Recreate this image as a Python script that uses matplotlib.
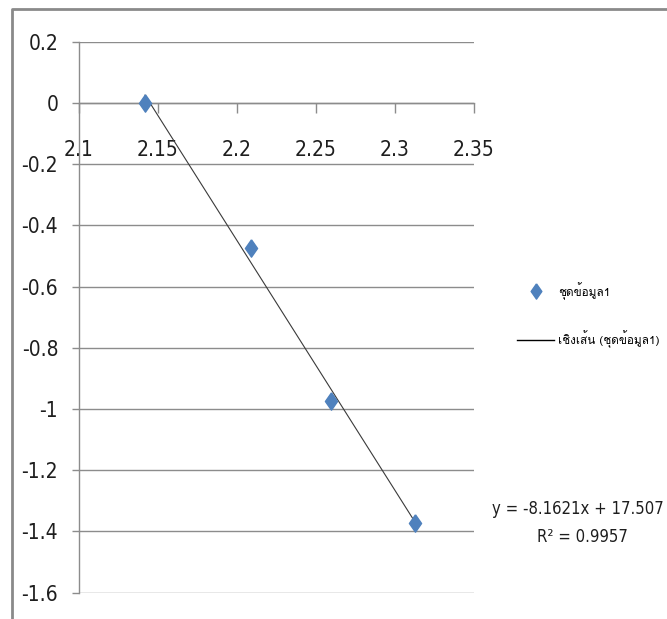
import os
import numpy as np
import matplotlib
matplotlib.use("Agg")
import matplotlib.pyplot as plt
from matplotlib import font_manager
from matplotlib.font_manager import FontProperties
from matplotlib.lines import Line2D
from matplotlib.ft2font import FT2Font

# ---- data ----
x_values = [2.1418, 2.2089, 2.2595, 2.3127]
y_values = [0.0, -0.474, -0.974, -1.373]
trend_slope = -8.1621
trend_intercept = 17.507
r_squared = 0.9957
x_ticks = [2.1, 2.15, 2.2, 2.25, 2.3, 2.35]
y_ticks = [0.2, 0, -0.2, -0.4, -0.6, -0.8, -1, -1.2, -1.4, -1.6]
series_label = "ชุดข้อมูล1"
trend_label = "เชิงเส้น (ชุดข้อมูล1)"
eq_text = "y = -8.1621x + 17.507"
r2_text = "R² = 0.9957"

# ---- fonts ----
BAD = ["bold", "italic", "light", "oblique", "thin", "medium", "black", "semi", "extra"]

def pick_narrow():
    prefs = ["liberationsansnarrow-regular", "dejavusanscondensed.ttf",
             "robotocondensed-regular", "notosans-condensed.", "notosans-condensed",
             "opensans-condensed", "opensans_condensed"]
    files = [f.fname for f in font_manager.fontManager.ttflist]
    low = [os.path.basename(p).lower() for p in files]
    for pr in prefs:
        for p, b in zip(files, low):
            if b.startswith(pr) and not any(k in b for k in BAD):
                return p
    for p, b in zip(files, low):
        if ("narrow" in b or "condensed" in b) and not any(k in b for k in BAD):
            return p
    return None

narrow_path = pick_narrow()

thai_font = None
for f in font_manager.fontManager.ttflist:
    try:
        cm = FT2Font(f.fname).get_charmap()
        if 0x0E0A in cm and 0x0E40 in cm:
            thai_font = f.name
            break
    except Exception:
        pass

def num_fp(size):
    if narrow_path:
        return FontProperties(fname=narrow_path, size=size)
    return FontProperties(family="Liberation Sans", size=size - 1)

plt.rcParams['font.family'] = ([thai_font] if thai_font else []) + ["DejaVu Sans"]

W, H = 667, 619
fig = plt.figure(figsize=(W / 100, H / 100), dpi=100)
L, R, T, B = 79, 474, 41.7, 592.7
ax = fig.add_axes([L / W, 1 - B / H, (R - L) / W, (B - T) / H])

grid_c = "#8c8c8c"
txt_c = "#1e1e1e"
ax.set_xlim(2.1, 2.35)
ax.set_ylim(-1.6, 0.2)
ax.set_yticks(y_ticks)
ax.set_yticklabels([f"{v:g}" for v in y_ticks])
ax.set_xticks(x_ticks)
ax.set_xticklabels([f"{v:g}" for v in x_ticks])

for s in ["top", "right"]:
    ax.spines[s].set_visible(False)
ax.spines["bottom"].set_position(("data", 0))
ax.spines["bottom"].set_color(grid_c)
ax.spines["left"].set_color(grid_c)
ax.spines["bottom"].set_linewidth(1.0)
ax.spines["left"].set_linewidth(1.0)

for yv in y_ticks:
    ax.axhline(yv, color=grid_c, lw=1.0, zorder=0)

ax.tick_params(axis="y", direction="out", length=5, width=1.0, color=grid_c,
               pad=10, labelcolor=txt_c)
ax.tick_params(axis="x", direction="out", length=7, width=1.0, color=grid_c,
               pad=20, labelcolor=txt_c)
for lbl in ax.get_xticklabels() + ax.get_yticklabels():
    lbl.set_fontproperties(num_fp(15))

xs = np.array([min(x_values), max(x_values)])
ax.plot(xs, trend_slope * xs + trend_intercept, color="#3a3a3a", lw=0.8, zorder=2)

diamond = [(0, 1), (0.7, 0), (0, -1), (-0.7, 0), (0, 1)]
ax.plot(x_values, y_values, linestyle="none", marker=diamond, markersize=12.5,
        color="#4f81bd", markeredgecolor="#4f81bd", zorder=3)

handles = [
    Line2D([], [], linestyle="none", marker=diamond, markersize=11,
           color="#4f81bd"),
    Line2D([], [], color="black", lw=1.0),
]
fig.legend(handles, [series_label, trend_label], loc="upper left",
           bbox_to_anchor=(506 / W, 1 - 271 / H), frameon=False,
           fontsize=8.5, handlelength=3.2, handletextpad=0.3, labelspacing=2.6)

eq_fp = num_fp(12)
fig.text(664 / W, 1 - 509 / H, eq_text, ha="right", va="center",
         fontproperties=eq_fp, color=txt_c)
fig.text(582 / W, 1 - 537 / H, r2_text, ha="center", va="center",
         fontproperties=eq_fp, color=txt_c)

border = Line2D([12 / W, 12 / W, 1.0], [0.0, 1 - 9 / H, 1 - 9 / H],
                transform=fig.transFigure, color="#8a8a8a", lw=2.0)
fig.add_artist(border)

fig.savefig("out.png", dpi=100)
